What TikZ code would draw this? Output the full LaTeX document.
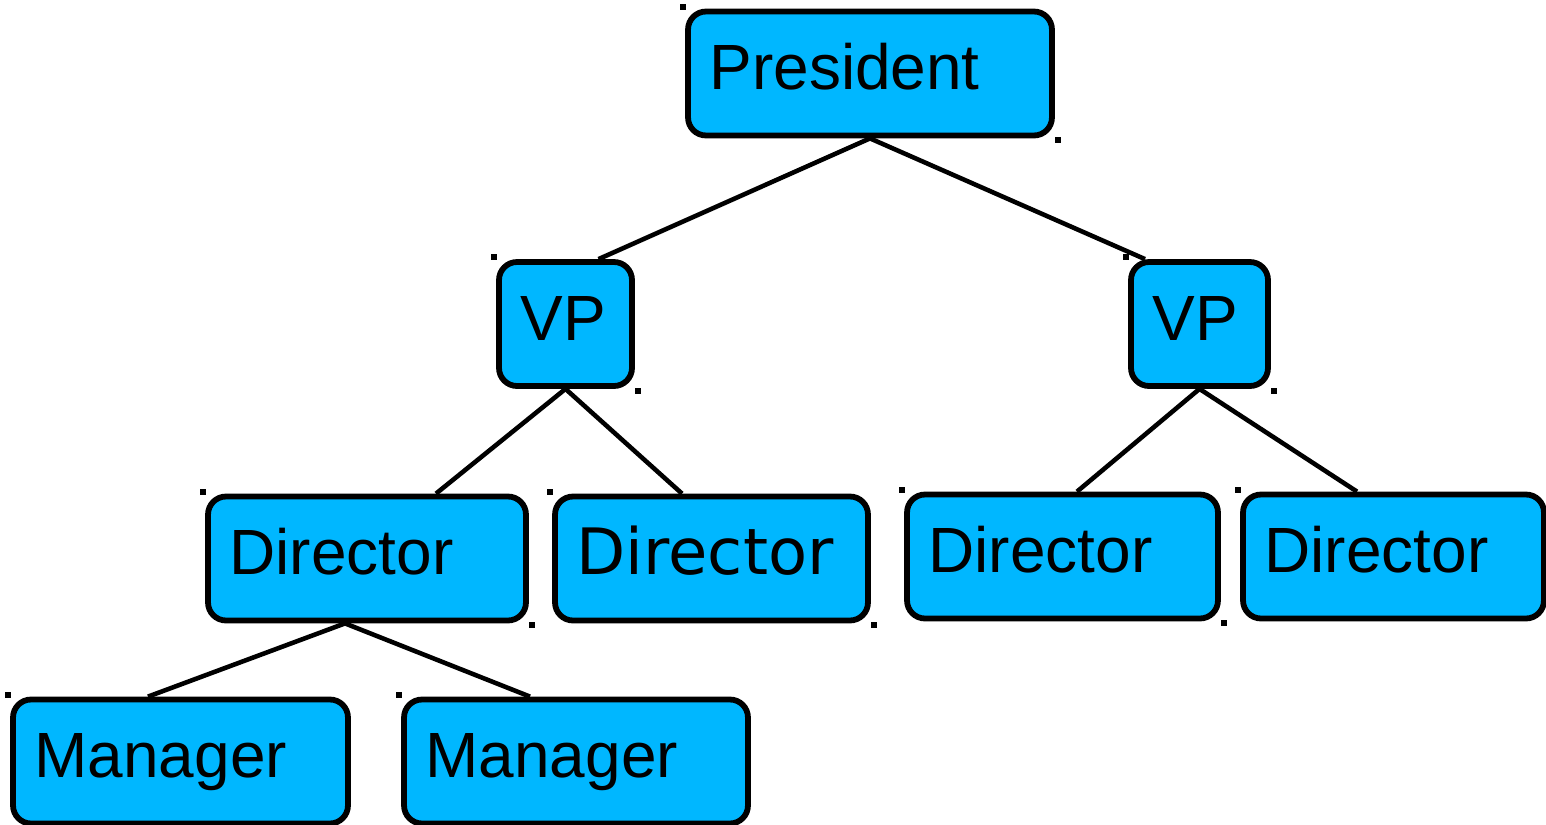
\documentclass[tikz,border=0pt]{standalone}
\usepackage{fontspec}
\setmainfont{Liberation Sans}
\newfontfamily\dejavu{DejaVu Sans}
\usepackage{tikz}
\usetikzlibrary{calc}
\definecolor{orgBlue}{RGB}{0,183,255}

\begin{document}
\begin{tikzpicture}[x=0.02cm, y=-0.02cm,
  orgbox/.style={draw, line width=3.3pt, fill=orgBlue, rounded corners=0.36cm,
    minimum height=2.48cm, inner xsep=0.43cm, text width=#1, align=left,
    text height=0.95cm, text depth=0.31cm, font=\fontsize{36.4}{40}\selectfont},
  link/.style={line width=2.6pt}]
  \useasboundingbox (0,0) rectangle (1546,825);

  \node[orgbox=6.42cm] (pres) at (870,73.5) {President};

  \node[orgbox=1.80cm] (vpa) at (565.5,324) {VP};
  \node[orgbox=1.88cm] (vpb) at (1199.5,324) {VP};

  \node[orgbox=5.50cm] (dira) at (367,558.5) {Director};
  \node[orgbox=5.40cm] (dirb) at (711.5,558.5) {\dejavu Director};
  \node[orgbox=5.36cm] (dirc) at (1062.5,556.5) {Director};
  \node[orgbox=5.16cm] (dird) at (1393.5,556.5) {Director};

  \node[orgbox=5.84cm] (mana) at (180.5,761.5) {Manager};
  \node[orgbox=6.02cm] (manb) at (576,761.5) {Manager};

  \draw[link] (pres.south) -- ($(vpa.north)+(33,0)$);
  \draw[link] (pres.south) -- ($(vpb.north)+(-54.5,0)$);
  \draw[link] (vpa.south) -- ($(dira.north)+(69,0)$);
  \draw[link] (vpa.south) -- ($(dirb.north)+(-29.5,0)$);
  \draw[link] (vpb.south) -- ($(dirc.north)+(14.5,0)$);
  \draw[link] (vpb.south) -- ($(dird.north)+(-36.5,0)$);
  \draw[link] ($(dira.south)+(-22,0)$) -- ($(mana.north)+(-32.5,0)$);
  \draw[link] ($(dira.south)+(-22,0)$) -- ($(manb.north)+(-46,0)$);

  \foreach \n in {pres,vpa,vpb,dira,dirb,dirc,dird,mana,manb} {
    \fill ($(\n.north west)+(-5,-5)$) rectangle +(6,6);
    \fill ($(\n.south east)+(0,-1)$) rectangle +(6,6);
  }
\end{tikzpicture}
\end{document}
